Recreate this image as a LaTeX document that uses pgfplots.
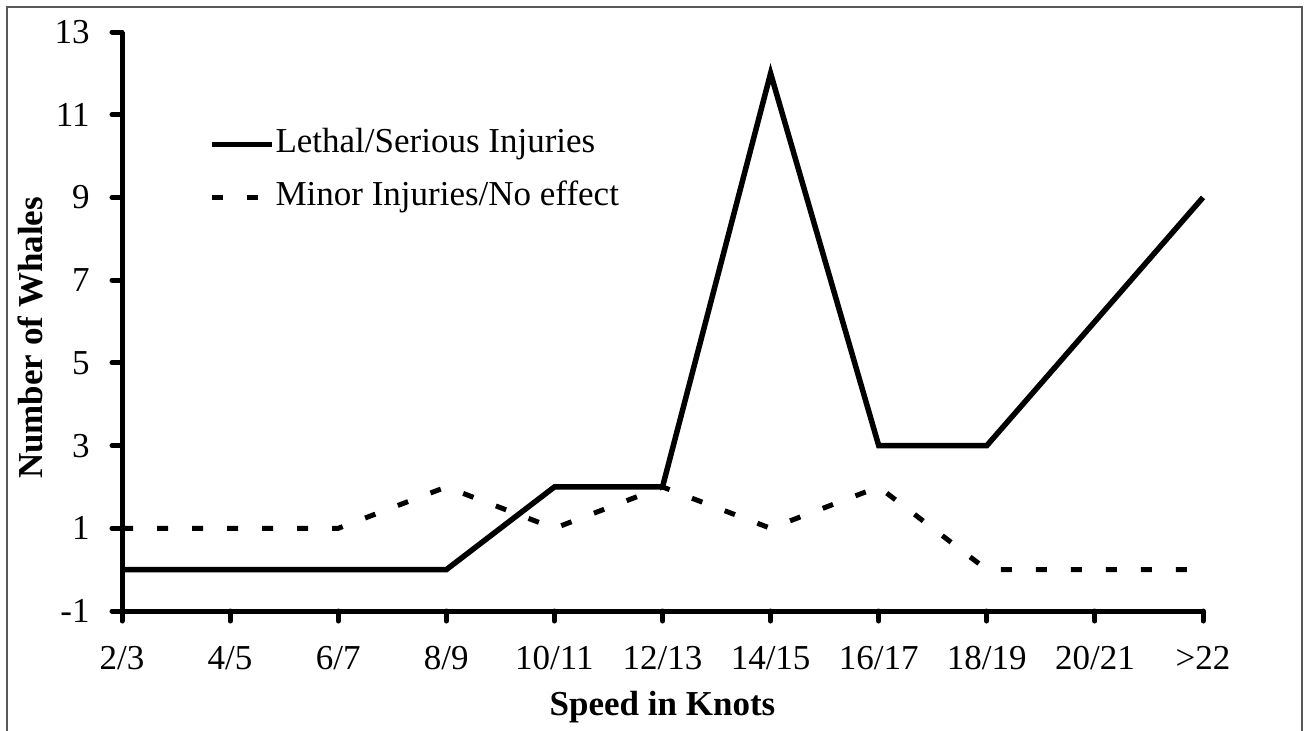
\documentclass[border=0pt]{standalone}
\usepackage{pgfplots}
\pgfplotsset{compat=1.18}
\usepackage{fontspec}
\setmainfont{Liberation Serif}
\begin{document}
\begin{tikzpicture}[font=\fontsize{17.5}{21}\selectfont]
\useasboundingbox (0,0) rectangle (652pt,-365pt);
\draw[line width=1pt, black!65] (3.5pt,-370pt) -- (3.5pt,-3.5pt) -- (651pt,-3.5pt) -- (651pt,-370pt);
\begin{axis}[
  at={(61pt,-305.5pt)}, anchor=south west,
  scale only axis, width=540.5pt, height=289.5pt,
  xmin=0, xmax=10, ymin=-1, ymax=13,
  axis x line=bottom, axis y line=left,
  axis line style={-, line width=2.5pt, black},
  xtick={0,...,10},
  xticklabels={2/3,4/5,6/7,8/9,10/11,12/13,14/15,16/17,18/19,20/21,>22},
  ytick={-1,1,3,5,7,9,11,13},
  yticklabels={-1,1,3,5,7,9,11,13},
  tick align=outside, major tick length=5pt,
  every tick/.style={line width=2.5pt, black, line cap=round},
  xticklabel style={anchor=north, inner sep=0pt, yshift=-12.5pt, font=\fontsize{17.5}{21}\selectfont},
  yticklabel style={anchor=east, inner sep=0pt, xshift=-11pt, font=\fontsize{17.5}{21}\selectfont},
  xlabel={Speed in Knots},
  ylabel={Number of Whales},
  xlabel style={at={(axis description cs:0.5,0)}, anchor=base, inner sep=0pt, yshift=-52pt, font=\bfseries\fontsize{17.5}{21}\selectfont},
  ylabel style={at={(axis description cs:-0.0731,0.4715)}, anchor=base, inner sep=0pt, font=\bfseries\fontsize{17.5}{21}\selectfont},
  legend style={draw=none, fill=none, inner sep=0pt, outer sep=0pt,
    at={(rel axis cs:0.0805,0.8335)}, anchor=north west,
    row sep=10.5pt, column sep=0.5pt,
    font=\fontsize{17.5}{21}\selectfont,
    nodes={inner sep=0pt, text height=12pt, text depth=4pt}},
  legend cell align=left,
  legend image code/.code={\draw[#1] (0pt,0pt) -- (30pt,0pt);},
  clip=false,
]
\addplot[black, line width=2.75pt, line join=miter] coordinates {
(0,0) (1,0) (2,0) (3,0) (4,2) (5,2) (6,12) (7,3) (8,3) (9,6) (10,9)};
\addlegendentry{Lethal/Serious Injuries}
\addplot[black, line width=2.5pt, dash pattern=on 5.5pt off 12pt] coordinates {
(0,1) (1,1) (2,1) (3,2) (4,1) (5,2) (6,1) (7,2) (8,0) (9,0) (10,0)};
\addlegendentry{Minor Injuries/No effect}
\end{axis}
\end{tikzpicture}
\end{document}
